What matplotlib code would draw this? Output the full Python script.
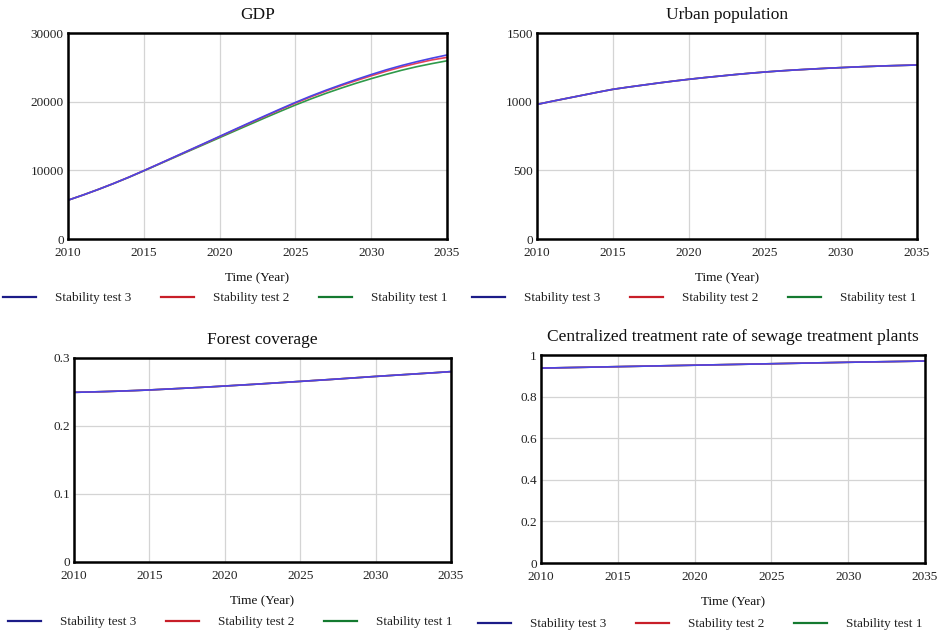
import matplotlib
matplotlib.use("Agg")
import matplotlib.pyplot as plt
from matplotlib.lines import Line2D

plt.rcParams['font.family'] = ['Liberation Serif', 'DejaVu Serif']

years = list(range(2010, 2036))

# GDP
gdp_test3 = [5650, 6410, 7220, 8080, 8990, 9950, 10940, 11940, 12940, 13940, 14950,
             15960, 16960, 17950, 18930, 19890, 20800, 21650, 22450, 23220, 23950,
             24640, 25260, 25820, 26330, 26800]
gdp_test2 = [5650, 6410, 7220, 8080, 8990, 9950, 10930, 11920, 12910, 13900, 14900,
             15900, 16890, 17870, 18840, 19790, 20690, 21530, 22320, 23060, 23770,
             24440, 25050, 25590, 26080, 26450]
gdp_test1 = [5650, 6410, 7220, 8070, 8970, 9920, 10890, 11860, 12830, 13790, 14760,
             15730, 16690, 17650, 18590, 19510, 20380, 21200, 21960, 22680, 23350,
             23980, 24570, 25090, 25540, 25950]

# Urban population
urban_test3 = [980, 1003, 1025, 1047, 1069, 1090, 1106, 1121, 1136, 1150, 1163,
               1175, 1186, 1197, 1207, 1216, 1224, 1231, 1237, 1243, 1248,
               1253, 1257, 1261, 1264, 1267]
urban_test2 = urban_test3
urban_test1 = urban_test3

# Forest coverage
forest_test3 = [0.2495, 0.2500, 0.2506, 0.2513, 0.2521, 0.2530, 0.2541, 0.2552, 0.2563, 0.2575,
                0.2588, 0.2601, 0.2614, 0.2628, 0.2642, 0.2656, 0.2670, 0.2684, 0.2699, 0.2714,
                0.2729, 0.2743, 0.2757, 0.2771, 0.2785, 0.2800]
forest_test2 = forest_test3
forest_test1 = forest_test3

# Centralized treatment rate of sewage treatment plants
sewage_test3 = [0.937, 0.9384, 0.9398, 0.9412, 0.9426, 0.944, 0.9454, 0.9468, 0.9482, 0.9496,
                0.951, 0.9524, 0.9538, 0.9552, 0.9566, 0.958, 0.9594, 0.9608, 0.9622, 0.9636,
                0.965, 0.9662, 0.9674, 0.9686, 0.9698, 0.971]
sewage_test2 = sewage_test3
sewage_test1 = sewage_test3

titles = ["GDP", "Urban population", "Forest coverage",
          "Centralized treatment rate of sewage treatment plants"]
series_names = ["Stability test 3", "Stability test 2", "Stability test 1"]
x_ticks = [2010, 2015, 2020, 2025, 2030, 2035]
x_ticklabels = ["2010", "2015", "2020", "2025", "2030", "2035"]
y_ticks = [[0, 10000, 20000, 30000], [0, 500, 1000, 1500],
           [0, 0.1, 0.2, 0.3], [0, 0.2, 0.4, 0.6, 0.8, 1]]
y_ticklabels = [["0", "10000", "20000", "30000"], ["0", "500", "1000", "1500"],
                ["0", "0.1", "0.2", "0.3"], ["0", "0.2", "0.4", "0.6", "0.8", "1"]]
data = [(gdp_test3, gdp_test2, gdp_test1),
        (urban_test3, urban_test2, urban_test1),
        (forest_test3, forest_test2, forest_test1),
        (sewage_test3, sewage_test2, sewage_test1)]

plot_colors = ["#4a44e6", "#e8405a", "#2f9a4a"]
legend_colors = ["#1c1c88", "#c81e28", "#147a30"]

W, H = 941, 637
fig = plt.figure(figsize=(9.41, 6.37), dpi=100)

# axes boxes in pixels: left, top, right, bottom
boxes = [(68, 33, 447, 239), (537, 33, 917, 239),
         (74, 358, 451, 562), (541, 355, 925, 563)]
legend_centers = [(225, 298), (694, 298), (230, 622), (700, 624)]

for i, (l, t, r, b) in enumerate(boxes):
    ax = fig.add_axes([l / W, 1 - b / H, (r - l) / W, (b - t) / H])
    s3, s2, s1 = data[i]
    ax.plot(years, s1, color=plot_colors[2], lw=1.2)
    ax.plot(years, s2, color=plot_colors[1], lw=1.2)
    ax.plot(years, s3, color=plot_colors[0], lw=1.2)
    ax.set_xlim(2010, 2035)
    ax.set_ylim(y_ticks[i][0], y_ticks[i][-1])
    ax.set_xticks(x_ticks)
    ax.set_xticklabels(x_ticklabels)
    ax.set_yticks(y_ticks[i])
    ax.set_yticklabels(y_ticklabels[i])
    ax.tick_params(length=0, labelsize=9.5, colors="#222222")
    ax.tick_params(axis="x", pad=6)
    ax.tick_params(axis="y", pad=3)
    ax.grid(True, color="#d4d4d4", lw=0.9)
    ax.set_axisbelow(True)
    for sp in ax.spines.values():
        sp.set_linewidth(1.8)
        sp.set_color("black")
    ax.set_title(titles[i], fontsize=12.5, pad=10, color="#111111")
    ax.set_xlabel("Time (Year)", fontsize=9.5, labelpad=9, color="#111111")
    handles = [Line2D([], [], color=c, lw=1.6) for c in legend_colors]
    cx, cy = legend_centers[i]
    ax.legend(handles, series_names, loc="center", ncol=3, frameon=False,
              bbox_to_anchor=(cx / W, 1 - cy / H), bbox_transform=fig.transFigure,
              fontsize=9.5, handlelength=2.5, handletextpad=1.45, columnspacing=2.25,
              borderpad=0, labelcolor="#222222")

fig.savefig("out.png", dpi=100)
